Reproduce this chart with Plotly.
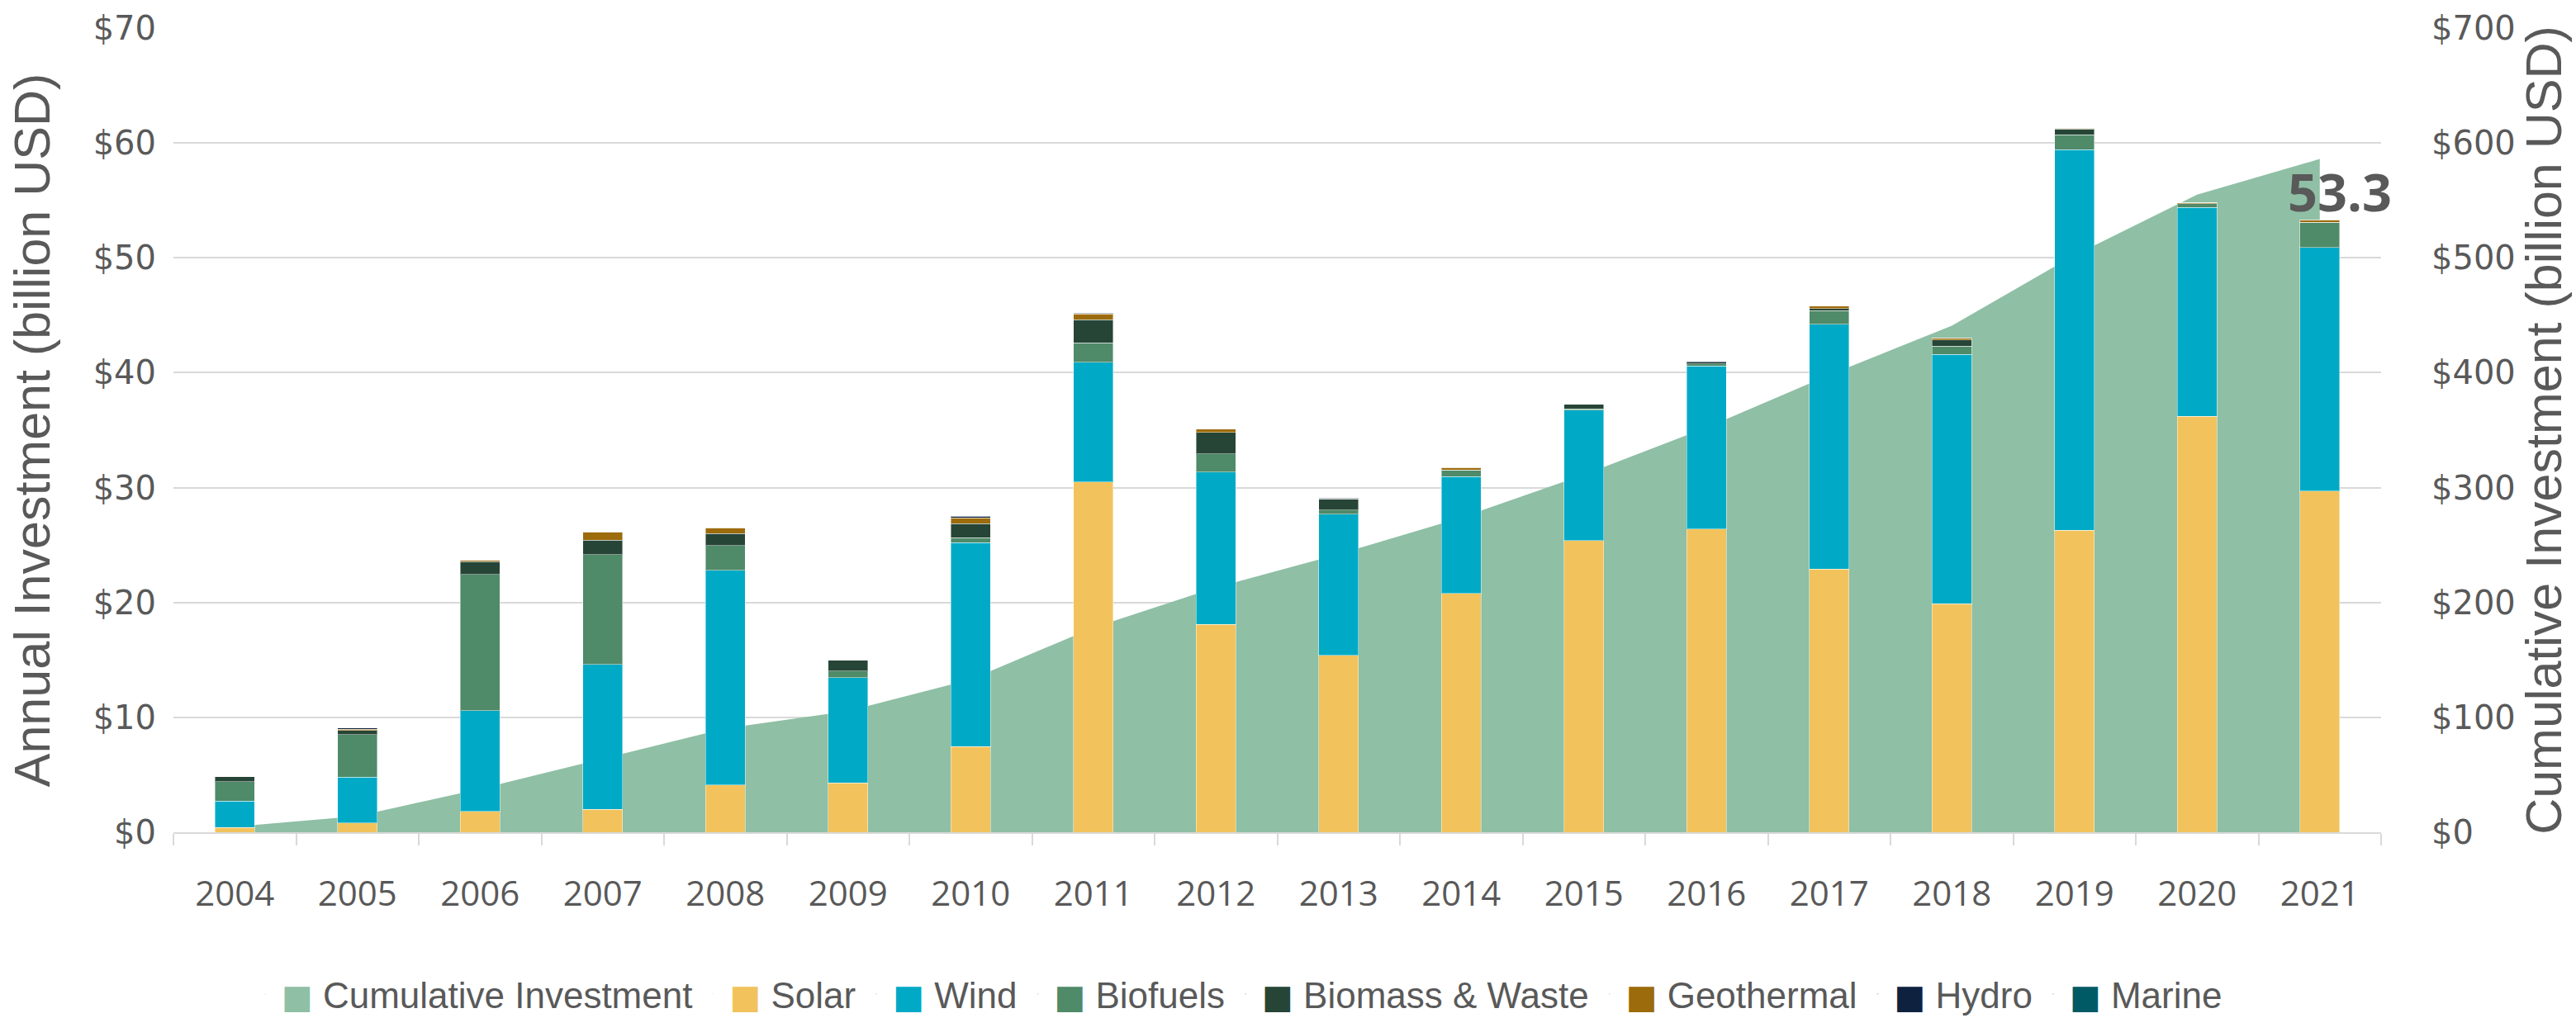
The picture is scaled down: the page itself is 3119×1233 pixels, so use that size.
import plotly.graph_objects as go

# Annual investment by technology (billion USD) and running cumulative total
years = [str(y) for y in range(2004, 2022)]

solar = [0.4, 0.8, 1.8, 2.0, 4.1, 4.3, 7.45, 30.5, 18.1, 15.4, 20.8, 25.4, 26.4, 22.9, 19.9, 26.3, 36.2, 29.7]
wind = [2.3, 4.0, 8.8, 12.6, 18.7, 9.15, 17.75, 10.4, 13.25, 12.3, 10.15, 11.35, 14.2, 21.3, 21.7, 33.1, 18.2, 21.2]
biofuels = [1.7, 3.7, 11.85, 9.55, 2.15, 0.6, 0.45, 1.7, 1.6, 0.35, 0.6, 0.1, 0.15, 1.2, 0.7, 1.3, 0.3, 2.2]
biomass_waste = [0.45, 0.35, 1.1, 1.27, 1.05, 0.9, 1.2, 2.0, 1.85, 0.95, 0.0, 0.4, 0.15, 0.2, 0.55, 0.5, 0.0, 0.0]
geothermal = [0.0, 0.12, 0.1, 0.72, 0.5, 0.0, 0.5, 0.5, 0.3, 0.0, 0.2, 0.0, 0.0, 0.2, 0.15, 0.1, 0.1, 0.2]
hydro = [0.0, 0.1, 0.0, 0.0, 0.0, 0.0, 0.15, 0.1, 0.0, 0.1, 0.0, 0.0, 0.1, 0.0, 0.0, 0.0, 0.0, 0.0]
marine = [0.0] * 18

cumulative = [4.9, 14.1, 37.7, 63.9, 90.4, 105.4, 132.9, 178.1, 213.1, 242.1, 273.9,
              311.2, 352.2, 398.0, 441.0, 502.3, 555.0, 586.0]

CUM_COLOR = "#8FBFA5"
series = [
    ("Solar", solar, "#F2C35C"),
    ("Wind", wind, "#00AAC6"),
    ("Biofuels", biofuels, "#4F8A69"),
    ("Biomass & Waste", biomass_waste, "#264536"),
    ("Geothermal", geothermal, "#9C6B0C"),
    ("Hydro", hydro, "#0E2240"),
    ("Marine", marine, "#005A66"),
]

TEXT = "#595959"
GRID = "#D9D9D9"
TICK_FONT = dict(family="DejaVu Sans", size=40, color=TEXT)
TITLE_FONT = dict(family="Liberation Sans, Arial, sans-serif", size=61, color=TEXT)

fig = go.Figure()

# cumulative area on the right-hand axis (drawn underneath the bars)
fig.add_trace(go.Scatter(
    x=years, y=cumulative, yaxis="y", mode="lines", fill="tozeroy",
    line=dict(width=0, color=CUM_COLOR), fillcolor=CUM_COLOR,
    showlegend=False, hoverinfo="skip", name="Cumulative Investment",
))

# stacked annual bars on the left-hand axis
for name, vals, color in series:
    fig.add_trace(go.Bar(
        x=years, y=vals, yaxis="y2", name=name,
        marker=dict(color=color, line=dict(color="rgba(255,255,255,0.45)", width=1)),
        showlegend=False,
    ))

# legend entries with large square swatches
legend_items = [("Cumulative Investment", CUM_COLOR)] + [(n, c) for n, _, c in series]
for name, color in legend_items:
    label = (f'<span style="font-family:DejaVu Sans;font-size:40px;color:{color}">\u25A0</span> '
             f'{name}')
    fig.add_trace(go.Scatter(
        x=[years[0]], y=[None], yaxis="y2", mode="markers", name=label,
        marker=dict(size=1, opacity=0, color=color), showlegend=True, hoverinfo="skip",
    ))

# total label over the final year (category axes take the category index)
last_idx = len(years) - 1
last_total = sum(s[1][last_idx] for s in series)
fig.add_annotation(
    x=last_idx, y=last_total, xref="x", yref="y2",
    text=f"<b>{last_total:.1f}</b>", showarrow=False,
    xanchor="center", yanchor="bottom", xshift=24, yshift=-10,
    font=dict(family="Open Sans", size=63, color=TEXT),
)

fig.update_layout(
    width=3119, height=1233,
    margin=dict(l=210, r=236, t=34, b=225, autoexpand=False),
    paper_bgcolor="white", plot_bgcolor="white",
    barmode="stack", bargap=0.68,
    font=dict(family="Liberation Sans, Arial, sans-serif", color=TEXT),
    xaxis=dict(
        type="category", categoryorder="array", categoryarray=years,
        range=[-0.5, len(years) - 0.5],
        showgrid=False, zeroline=False,
        showline=True, linecolor=GRID, linewidth=2,
        ticks="outside", tickson="boundaries", ticklen=14, tickwidth=2, tickcolor=GRID,
        tickfont=dict(family="Open Sans", size=42, color=TEXT), tickangle=0,
        ticklabelstandoff=37,
    ),
    yaxis=dict(
        side="right", range=[0, 700], dtick=100, tickprefix="$",
        showgrid=True, gridcolor=GRID, gridwidth=2, zeroline=False,
        tickfont=TICK_FONT, ticklabelstandoff=60,
        title=dict(text="Cumulative Investment (billion USD)", font=TITLE_FONT, standoff=12),
    ),
    yaxis2=dict(
        overlaying="y", side="left", range=[0, 70], dtick=10, tickprefix="$",
        showgrid=False, zeroline=False,
        tickfont=TICK_FONT, ticklabelstandoff=20,
        title=dict(text="Annual Investment (billion USD)", font=TITLE_FONT, standoff=32),
    ),
    legend=dict(
        orientation="h", traceorder="normal",
        x=0.482, xanchor="center", y=-0.2015, yanchor="middle",
        font=dict(size=44, color=TEXT), itemwidth=30, bgcolor="rgba(0,0,0,0)",
    ),
)

fig.write_html("out.html")
